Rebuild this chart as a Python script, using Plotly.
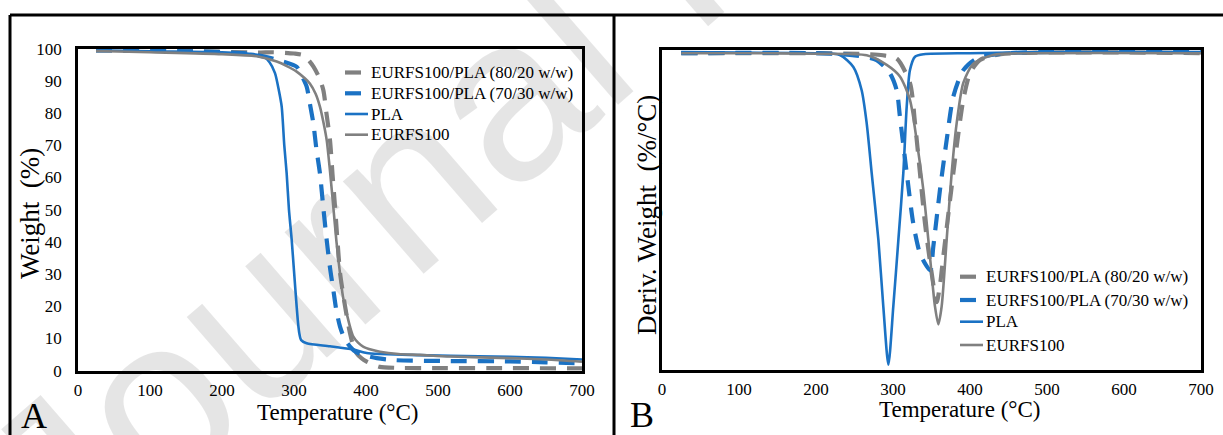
import plotly.graph_objects as go

# ---- Thermogravimetric data (TGA, weight %) ----
names = ["EURFS100/PLA (80/20 w/w)", "EURFS100/PLA (70/30 w/w)", "PLA", "EURFS100"]

tga_t_8020 = [25, 150, 250, 271, 300, 312.5, 320, 327, 334, 340.7, 345, 350, 353.5, 357, 360.5, 364,
              371, 377.8, 382, 387, 394, 401, 410, 419, 440, 500, 600, 700]
tga_w_8020 = [99.5, 99.3, 98.8, 98.9, 98.5, 98.0, 96.5, 94.4, 91.5, 87.2, 80.0, 71.6, 61.0, 50.9, 40.0, 30.3,
              19.9, 11.6, 8.0, 5.4, 3.8, 2.8, 1.9, 1.2, 0.9, 0.8, 0.8, 0.7]

tga_t_7030 = [25, 150, 230, 260, 285, 303.7, 311, 317.6, 322, 326.9, 331, 336, 341, 345.4, 350, 354.6,
              359, 363.9, 370, 377.8, 386, 396, 415, 438, 517, 600, 650, 700]
tga_w_7030 = [99.5, 99.2, 98.6, 97.5, 96.0, 94.4, 91.5, 88.2, 83.0, 76.8, 69.0, 61.3, 50.0, 40.6, 32.0, 25.1,
              18.5, 13.7, 10.0, 7.5, 5.8, 4.9, 3.9, 3.3, 3.0, 2.9, 2.6, 2.3]

tga_t_pla = [25, 100, 200, 240, 257, 266, 273.6, 279, 282.9, 286.5, 289.8, 293, 296.8, 300, 303.7, 306,
             307.4, 310, 317.6, 350, 382, 401, 420, 517, 600, 650, 700]
tga_w_pla = [99.5, 99.2, 98.9, 98.4, 97.6, 95.8, 92.4, 87.0, 82.0, 70.0, 61.3, 50.0, 40.6, 31.0, 19.9, 14.0,
             11.6, 9.5, 8.5, 7.6, 6.6, 5.5, 5.2, 4.6, 4.3, 4.0, 3.5]

tga_t_eur = [25, 100, 200, 250, 276, 290, 303.7, 315, 322, 330, 336, 341, 345.4, 350, 354.6, 359, 363.9,
             368, 373.2, 378, 382.4, 389, 396, 408, 419.4, 445, 475, 517, 600, 650, 700]
tga_w_eur = [99.3, 98.9, 98.3, 97.6, 96.0, 94.6, 92.9, 90.8, 89.2, 86.0, 82.0, 77.0, 71.6, 62.0, 50.9, 40.0,
             30.2, 23.0, 17.8, 13.5, 10.6, 8.7, 7.5, 6.5, 5.9, 5.2, 4.9, 4.4, 3.9, 3.5, 2.8]

# ---- Derivative weight data (DTG, %/°C) ----
dtg_t_8020 = [25, 200, 270, 287, 304.8, 322, 328.6, 335, 341.6, 350.3, 356.7, 361, 365.3, 374, 382.7,
              391.3, 400, 413, 440, 700]
dtg_v_8020 = [-0.01, -0.01, -0.02, -0.03, -0.06, -0.29, -0.67, -1.14, -1.62, -2.09, -2.36, -2.20, -1.93,
              -1.40, -0.89, -0.45, -0.20, -0.075, -0.02, -0.01]

dtg_t_7030 = [25, 200, 250, 278.8, 296, 304.8, 309, 317.8, 326.4, 335, 343.7, 348.5, 352.3, 361, 369.7,
              378.3, 391.3, 408.7, 450, 700]
dtg_v_7030 = [-0.01, -0.01, -0.03, -0.075, -0.20, -0.36, -0.61, -1.14, -1.62, -1.90, -2.02, -2.06, -1.84,
              -1.30, -0.83, -0.42, -0.17, -0.06, -0.01, 0.0]

dtg_t_pla = [25, 100, 200, 231, 248.5, 259.3, 265.8, 272.3, 281, 287.4, 294, 300.4, 307, 313.4, 317.8,
             322, 328.6, 340, 400, 500, 700]
dtg_v_pla = [0.0, -0.005, -0.01, -0.027, -0.14, -0.36, -0.67, -1.14, -1.77, -2.40, -2.95, -2.40, -1.77,
             -1.14, -0.515, -0.17, -0.043, -0.02, -0.01, 0.0, 0.0]

dtg_t_eur = [25, 100, 200, 265.8, 291.8, 309, 322, 330.7, 339.4, 348, 354.5, 358.9, 363.2, 369.7, 376.2,
             382.7, 391.3, 404.3, 430, 500, 700]
dtg_v_eur = [-0.01, -0.01, -0.015, -0.03, -0.12, -0.23, -0.45, -0.83, -1.30, -1.93, -2.40, -2.57, -2.40,
             -1.77, -1.14, -0.67, -0.29, -0.11, -0.027, -0.01, -0.01]

x_ticks = [0, 100, 200, 300, 400, 500, 600, 700]
y_ticks = [0, 10, 20, 30, 40, 50, 60, 70, 80, 90, 100]
panel_letters = ["A", "B"]

BLUE = "#1b72c4"
GRAY = "#808080"
SERIF = "Liberation Serif, Times New Roman, serif"
DASH = "16px,11px"

styles = [
    (GRAY, DASH, 4.2),
    (BLUE, DASH, 4.2),
    (BLUE, "solid", 2.6),
    (GRAY, "solid", 2.6),
]
tga = [(tga_t_8020, tga_w_8020), (tga_t_7030, tga_w_7030), (tga_t_pla, tga_w_pla), (tga_t_eur, tga_w_eur)]
dtg = [(dtg_t_8020, dtg_v_8020), (dtg_t_7030, dtg_v_7030), (dtg_t_pla, dtg_v_pla), (dtg_t_eur, dtg_v_eur)]

W, H = 1223, 435


def px_x(p):
    return p / W


def px_y(p):
    return 1 - p / H


fig = go.Figure()

for name, (t, w), (col, dash, lw) in zip(names, tga, styles):
    fig.add_trace(go.Scatter(x=t, y=w, name=name, mode="lines", showlegend=False,
                             line=dict(color=col, dash=dash, width=lw, shape="spline", smoothing=0.7),
                             xaxis="x", yaxis="y"))

for name, (t, v), (col, dash, lw) in zip(names, dtg, styles):
    fig.add_trace(go.Scatter(x=t, y=v, name=name, mode="lines", showlegend=False,
                             line=dict(color=col, dash=dash, width=lw, shape="spline", smoothing=0.7),
                             xaxis="x2", yaxis="y2"))

# Panel letters on a full-page overlay axis (pixel coordinates)
fig.add_trace(go.Scatter(x=[34, 642], y=[419, 418], text=panel_letters, mode="text",
                         textposition="middle center", cliponaxis=False, showlegend=False,
                         hoverinfo="skip", textfont=dict(family=SERIF, size=36, color="black"),
                         xaxis="x3", yaxis="y3"))

axis_common = dict(showline=True, linecolor="black", linewidth=2.5, mirror=True, showgrid=False,
                   zeroline=False, ticks="", tickfont=dict(family=SERIF, size=17, color="black"))

fig.update_layout(
    width=W, height=H, margin=dict(l=0, r=0, t=0, b=0, autoexpand=False),
    paper_bgcolor="white", plot_bgcolor="rgba(0,0,0,0)",
    font=dict(family=SERIF, size=17, color="black"),
    showlegend=False,
    xaxis=dict(domain=[px_x(78), px_x(582)], range=[0, 700], tickvals=x_ticks, anchor="y",
               ticklabelstandoff=2, **axis_common),
    yaxis=dict(domain=[px_y(370.7), px_y(48.7)], range=[0, 100], tickvals=y_ticks, anchor="x",
               ticklabelstandoff=10, **axis_common),
    xaxis2=dict(domain=[px_x(662), px_x(1201)], range=[0, 700], tickvals=x_ticks, anchor="y2",
                ticklabelstandoff=2, **axis_common),
    yaxis2=dict(domain=[px_y(370), px_y(50)], range=[-3.0, 0.02], showticklabels=False, anchor="x2",
                **axis_common),
    xaxis3=dict(domain=[0, 1], range=[0, W], visible=False, anchor="y3", fixedrange=True),
    yaxis3=dict(domain=[0, 1], range=[H, 0], visible=False, anchor="x3", fixedrange=True),
)

# Panel frames
frame = dict(type="line", xref="paper", yref="paper", line=dict(color="black", width=3))
fig.add_shape(x0=px_x(10), x1=1, y0=px_y(15), y1=px_y(15), **frame)
fig.add_shape(x0=px_x(10), x1=px_x(10), y0=px_y(15), y1=0, **frame)
fig.add_shape(x0=px_x(614), x1=px_x(614), y0=px_y(15), y1=0, **frame)

# Diagonal watermark, kept beneath the data
cx, cy = 680, -85
fig.add_shape(type="line", xref="paper", yref="paper", layer="below",
              x0=px_x(cx - 75), y0=px_y(cy + 66), x1=px_x(cx + 75), y1=px_y(cy - 66),
              line=dict(color="rgba(0,0,0,0)", width=0),
              label=dict(text="Journal Pre-proof", textangle=-41, textposition="middle",
                         xanchor="center", yanchor="middle",
                         font=dict(family="Liberation Sans, Arial, sans-serif", size=232,
                                   color="rgba(0,0,0,0.10)")))

# Legends: a short line sample followed by the series name
legend_rows = [
    dict(x0=345, x1=368, xt=370, ys=[72.5, 93.3, 114.0, 134.7]),
    dict(x0=960, x1=983, xt=985, ys=[276.7, 300.0, 321.7, 345.0]),
]
for row in legend_rows:
    for name, (col, dash, lw), yy in zip(names, styles, row["ys"]):
        fig.add_shape(type="line", xref="paper", yref="paper",
                      x0=px_x(row["x0"]), x1=px_x(row["x1"]), y0=px_y(yy), y1=px_y(yy),
                      line=dict(color=col, width=lw, dash=dash))
        fig.add_annotation(x=px_x(row["xt"]), y=px_y(yy), text=name, xref="paper", yref="paper",
                           showarrow=False, xanchor="left", yanchor="middle", borderpad=0,
                           font=dict(family=SERIF, size=17, color="black"))

# Axis titles
ann = dict(xref="paper", yref="paper", showarrow=False, xanchor="center", yanchor="middle")
fig.add_annotation(x=px_x(337.5), y=px_y(412), text="Temperature (°C)",
                   font=dict(family=SERIF, size=23, color="black"), **ann)
fig.add_annotation(x=px_x(959), y=px_y(409), text="Temperature (°C)",
                   font=dict(family=SERIF, size=23, color="black"), **ann)
fig.add_annotation(x=px_x(30), y=px_y(214), text="Weight  (%)", textangle=-90,
                   font=dict(family=SERIF, size=27, color="black"), **ann)
fig.add_annotation(x=px_x(647), y=px_y(215), text="Deriv. Weight  (%/°C)", textangle=-90,
                   font=dict(family=SERIF, size=27, color="black"), **ann)

fig.write_html("out.html")
